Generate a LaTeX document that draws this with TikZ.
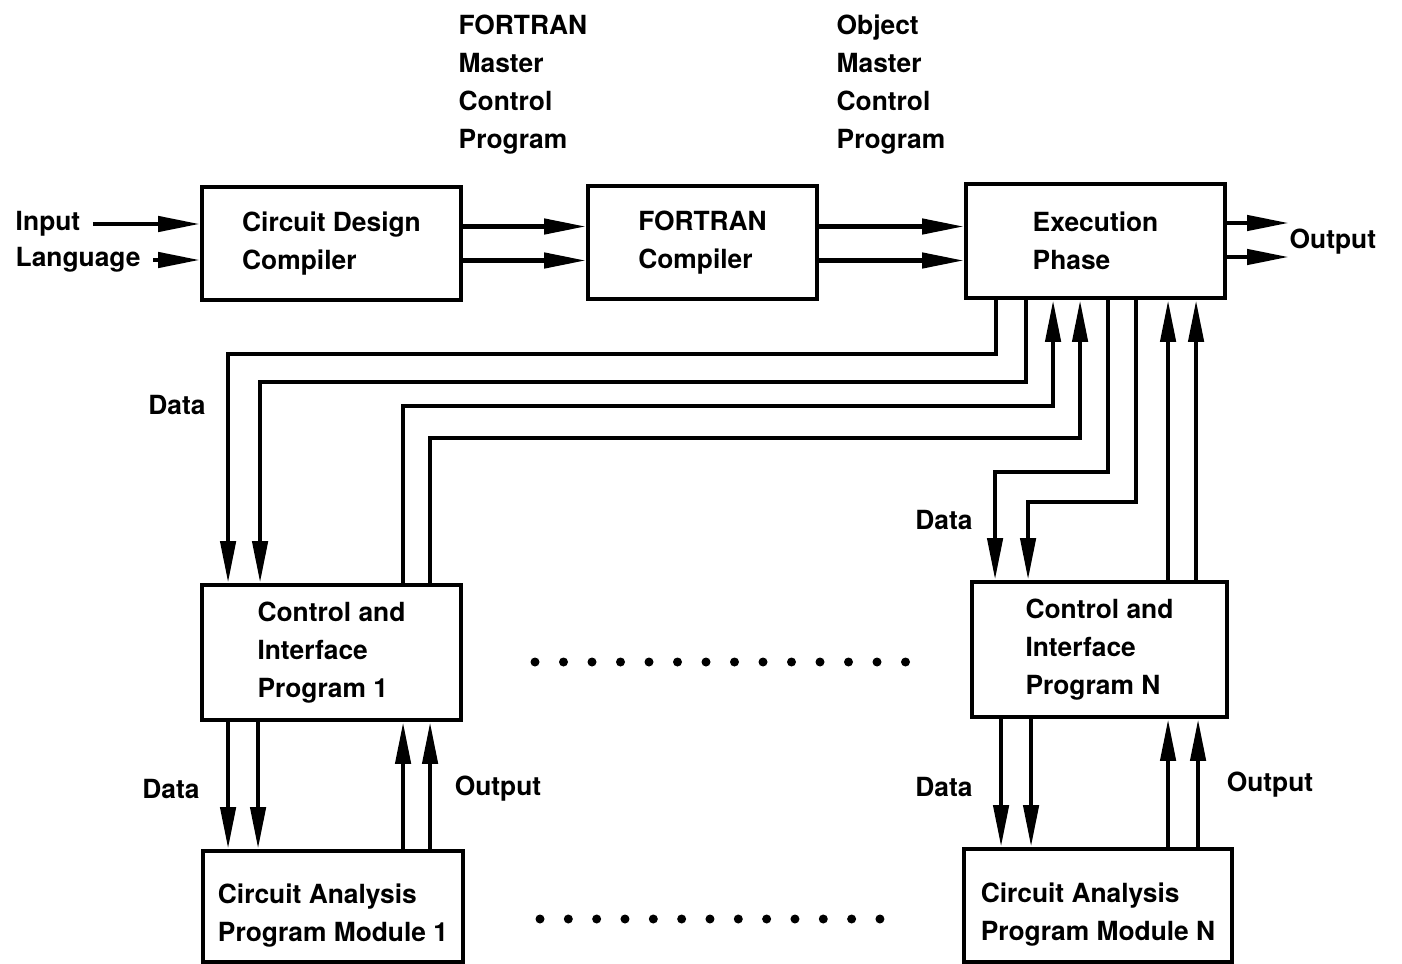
\documentclass[tikz,border=0pt]{standalone}
\usepackage{fontspec}
\setmainfont{TeX Gyre Heros}
\usetikzlibrary{arrows.meta}

\begin{document}
\begin{tikzpicture}[
    txt/.style={font=\bfseries\fontsize{7.5}{10.8}\selectfont, align=left, inner sep=0pt},
    box/.style={txt, draw, line width=1.1pt},
    bus/.style={line width=1.3pt},
    arr/.style={bus, -{Triangle[length=4.2mm,width=1.5mm]}},
    rarr/.style={bus, {Triangle[length=4.2mm,width=1.5mm]}-}
]
\useasboundingbox (0,0) rectangle (14.02,-9.64);

% main blocks
\node[box, minimum width=2.59cm, minimum height=1.13cm] (cdc) at (3.315,-2.435) {Circuit Design\\Compiler};
\node[box, minimum width=2.29cm, minimum height=1.13cm] (fc) at (7.025,-2.425) {FORTRAN\\Compiler};
\node[box, minimum width=2.59cm, minimum height=1.14cm] (ep) at (10.955,-2.41) {Execution\\Phase};
\node[box, minimum width=2.59cm, minimum height=1.35cm] (cip1) at (3.315,-6.525) {Control and\\Interface\\Program 1};
\node[box, minimum width=2.55cm, minimum height=1.35cm] (cipn) at (10.995,-6.495) {Control and\\Interface\\Program N};
\node[box, minimum width=2.60cm, minimum height=1.11cm, text height=0.75cm] (cam1) at (3.33,-9.065) {Circuit Analysis\\Program Module 1};
\node[box, minimum width=2.68cm, minimum height=1.13cm, text height=0.75cm] (camn) at (10.98,-9.055) {Circuit Analysis\\Program Module N};

% labels
\node[txt, anchor=west] (inp) at (0.15,-2.24) {Input};
\node[txt, anchor=west] (lang) at (0.15,-2.60) {Language};
\node[txt, anchor=west] (out) at (12.89,-2.42) {Output};
\node[txt, anchor=north west] (fmcp) at (4.58,-0.14) {FORTRAN\\Master\\Control\\Program};
\node[txt, anchor=north west] (omcp) at (8.36,-0.14) {Object\\Master\\Control\\Program};
\node[txt] (data1) at (1.77,-4.05) {Data};
\node[txt] (data2) at (9.44,-5.20) {Data};
\node[txt] (data3) at (1.71,-7.89) {Data};
\node[txt] (out1) at (4.98,-7.89) {Output};
\node[txt] (data4) at (9.44,-7.87) {Data};
\node[txt] (outn) at (12.70,-7.85) {Output};

% top row
\foreach \n in {inp,lang}
    \draw[arr, shorten <=1.2mm] (\n.east) -- (\n.east -| cdc.west);
\foreach \dy in {1.7,-1.7}
    \draw[arr] ([yshift=\dy mm]cdc.east) coordinate (a) -- (a -| fc.west);
\foreach \dy in {1.6,-1.8}
    \draw[arr] ([yshift=\dy mm]fc.east) coordinate (a) -- (a -| ep.west);
\foreach \dy in {1.8,-1.6}
    \draw[arr] ([yshift=\dy mm]ep.east) coordinate (a) -- (a -| out.west);

% links to the control programs
\draw[arr] ([xshift=3.2mm]ep.south west) -- ++(0,-0.54) -| ([xshift=2.8mm]cip1.north west);
\draw[arr] ([xshift=6.2mm]ep.south west) -- ++(0,-0.82) -| ([xshift=6.0mm]cip1.north west);
\draw[arr] ([xshift=20.3mm]cip1.north west) -- ++(0,1.77) -| ([xshift=8.9mm]ep.south west);
\draw[arr] ([xshift=23.0mm]cip1.north west) -- ++(0,1.45) -| ([xshift=11.6mm]ep.south west);
\draw[arr] ([xshift=14.4mm]ep.south west) -- ++(0,-1.72) -| ([xshift=2.5mm]cipn.north west);
\draw[arr] ([xshift=17.2mm]ep.south west) -- ++(0,-2.02) -| ([xshift=5.8mm]cipn.north west);
\foreach \dx in {19.8,22.6}
    \draw[arr] ([xshift=\dx mm]cipn.north west) coordinate (a) -- (a |- ep.south);

% links to the analysis modules
\foreach \dx in {2.8,5.8}
    \draw[arr] ([xshift=\dx mm]cip1.south west) coordinate (a) -- (a |- cam1.north);
\foreach \dx in {20.3,23.0}
    \draw[rarr] ([xshift=\dx mm]cip1.south west) coordinate (a) -- (a |- cam1.north);
\foreach \dx in {3.1,6.1}
    \draw[arr] ([xshift=\dx mm]cipn.south west) coordinate (a) -- (a |- camn.north);
\foreach \dx in {19.8,22.8}
    \draw[rarr] ([xshift=\dx mm]cipn.south west) coordinate (a) -- (a |- camn.north);

% dots
\foreach \i in {0,...,13}
    \fill (5.35+\i*0.285,-6.62) circle (0.045);
\foreach \i in {0,...,12}
    \fill (5.40+\i*0.2833,-9.19) circle (0.045);
\end{tikzpicture}
\end{document}
